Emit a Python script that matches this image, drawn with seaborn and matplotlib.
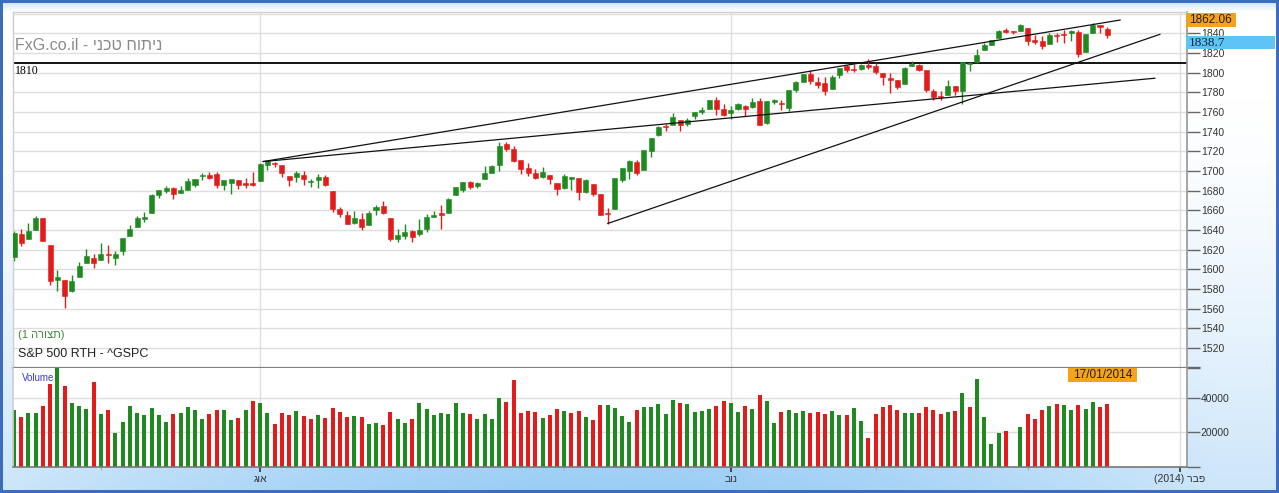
import numpy as np
import pandas as pd
import matplotlib
matplotlib.use("Agg")
import matplotlib.pyplot as plt
from matplotlib.patches import Rectangle
import seaborn as sns

# S&P 500 daily candles, 13/06/2013 - 17/01/2014
dates = [
    "2013-06-13", "2013-06-14", "2013-06-17", "2013-06-18", "2013-06-19", "2013-06-20", "2013-06-21",
    "2013-06-24", "2013-06-25", "2013-06-26", "2013-06-27", "2013-06-28",
    "2013-07-01", "2013-07-02", "2013-07-03", "2013-07-05", "2013-07-08", "2013-07-09", "2013-07-10",
    "2013-07-11", "2013-07-12", "2013-07-15", "2013-07-16", "2013-07-17", "2013-07-18", "2013-07-19",
    "2013-07-22", "2013-07-23", "2013-07-24", "2013-07-25", "2013-07-26", "2013-07-29", "2013-07-30",
    "2013-07-31",
    "2013-08-01", "2013-08-02", "2013-08-05", "2013-08-06", "2013-08-07", "2013-08-08", "2013-08-09",
    "2013-08-12", "2013-08-13", "2013-08-14", "2013-08-15", "2013-08-16", "2013-08-19", "2013-08-20",
    "2013-08-21", "2013-08-22", "2013-08-23", "2013-08-26", "2013-08-27", "2013-08-28", "2013-08-29",
    "2013-08-30",
    "2013-09-03", "2013-09-04", "2013-09-05", "2013-09-06", "2013-09-09", "2013-09-10", "2013-09-11",
    "2013-09-12", "2013-09-13", "2013-09-16", "2013-09-17", "2013-09-18", "2013-09-19", "2013-09-20",
    "2013-09-23", "2013-09-24", "2013-09-25", "2013-09-26", "2013-09-27", "2013-09-30",
    "2013-10-01", "2013-10-02", "2013-10-03", "2013-10-04", "2013-10-07", "2013-10-08", "2013-10-09",
    "2013-10-10", "2013-10-11", "2013-10-14", "2013-10-15", "2013-10-16", "2013-10-17", "2013-10-18",
    "2013-10-21", "2013-10-22", "2013-10-23", "2013-10-24", "2013-10-25", "2013-10-28", "2013-10-29",
    "2013-10-30", "2013-10-31",
    "2013-11-01", "2013-11-04", "2013-11-05", "2013-11-06", "2013-11-07", "2013-11-08", "2013-11-11",
    "2013-11-12", "2013-11-13", "2013-11-14", "2013-11-15", "2013-11-18", "2013-11-19", "2013-11-20",
    "2013-11-21", "2013-11-22", "2013-11-25", "2013-11-26", "2013-11-27", "2013-11-29",
    "2013-12-02", "2013-12-03", "2013-12-04", "2013-12-05", "2013-12-06", "2013-12-09", "2013-12-10",
    "2013-12-11", "2013-12-12", "2013-12-13", "2013-12-16", "2013-12-17", "2013-12-18", "2013-12-19",
    "2013-12-20", "2013-12-23", "2013-12-24", "2013-12-26", "2013-12-27", "2013-12-30", "2013-12-31",
    "2014-01-02", "2014-01-03", "2014-01-06", "2014-01-07", "2014-01-08", "2014-01-09", "2014-01-10",
    "2014-01-13", "2014-01-14", "2014-01-15", "2014-01-16", "2014-01-17",
]
# empty sessions to the right of the last candle (axis only)
future_dates = [
    "2014-01-21", "2014-01-22", "2014-01-23", "2014-01-24", "2014-01-27", "2014-01-28",
    "2014-01-29", "2014-01-30", "2014-01-31", "2014-02-03",
]

opens = [
    1612.15, 1635.52, 1630.64, 1639.77, 1651.83, 1624.62, 1588.62, 1588.77, 1577.52, 1592.27, 1606.44, 1611.12,
    1609.78, 1614.29, 1611.48, 1618.65, 1634.20, 1642.89, 1651.56, 1657.41, 1675.26, 1679.59, 1682.70,
    1677.91, 1681.05, 1686.15, 1694.41, 1696.06, 1696.63, 1685.21, 1687.31, 1690.32, 1687.92, 1687.76,
    1689.42, 1706.10, 1708.01, 1705.79, 1695.30, 1693.35, 1696.10, 1688.37, 1690.65, 1693.88, 1679.61,
    1661.22, 1655.25, 1646.81, 1650.66, 1645.03, 1659.92, 1664.29, 1652.54, 1630.25, 1633.50, 1638.89,
    1635.95, 1640.72, 1653.28, 1657.44, 1656.85, 1675.11, 1681.04, 1689.21, 1685.04, 1691.70, 1697.73,
    1705.74, 1727.34, 1722.44, 1711.44, 1702.60, 1698.02, 1694.05, 1695.52, 1687.26,
    1682.41, 1691.90, 1692.35, 1678.79, 1687.15, 1676.22, 1656.99, 1660.88, 1691.09, 1699.86, 1709.17,
    1700.49, 1720.17, 1736.72, 1745.20, 1746.48, 1752.27, 1747.48, 1756.01, 1759.42, 1762.93, 1772.27,
    1763.24,
    1758.70, 1763.40, 1765.67, 1765.00, 1770.74, 1748.37, 1769.96, 1769.51, 1764.37, 1782.75, 1790.66,
    1798.82, 1790.79, 1789.59, 1783.52, 1797.21, 1806.33, 1802.87, 1803.48, 1808.01,
    1806.55, 1800.10, 1794.15, 1792.82, 1788.36, 1806.21, 1807.60, 1802.76, 1781.71, 1776.01, 1777.48,
    1786.47, 1781.46, 1809.00, 1810.39, 1822.92, 1828.02, 1834.96, 1842.97, 1841.47, 1842.61,
    1845.86, 1833.21, 1832.31, 1828.71, 1837.90, 1839.00, 1840.06, 1841.26, 1821.36, 1840.52, 1847.99,
    1844.23,
]
highs = [
    1639.25, 1640.80, 1646.50, 1654.19, 1652.45, 1624.62, 1599.19, 1588.77, 1593.79, 1606.83, 1620.07, 1615.94,
    1626.61, 1624.26, 1618.97, 1632.07, 1644.68, 1654.18, 1657.92, 1676.63, 1680.19, 1684.51, 1683.73,
    1684.75, 1693.12, 1692.09, 1697.61, 1698.38, 1698.78, 1690.94, 1691.85, 1690.92, 1693.19, 1698.43,
    1707.85, 1709.67, 1709.24, 1705.79, 1695.30, 1700.18, 1699.42, 1691.49, 1696.81, 1695.52, 1679.61,
    1663.60, 1659.18, 1658.92, 1656.99, 1659.55, 1664.85, 1669.51, 1652.54, 1641.18, 1646.41, 1640.08,
    1651.35, 1655.72, 1659.17, 1664.83, 1672.40, 1684.09, 1689.13, 1689.97, 1688.73, 1704.95, 1705.52,
    1729.44, 1729.86, 1725.23, 1711.44, 1707.63, 1701.71, 1703.85, 1695.52, 1687.26,
    1696.55, 1693.87, 1692.35, 1691.94, 1687.15, 1676.79, 1662.47, 1692.56, 1703.44, 1711.03, 1711.57,
    1721.76, 1733.45, 1745.31, 1747.79, 1759.33, 1752.27, 1753.94, 1759.82, 1764.99, 1772.09, 1775.22,
    1768.53,
    1765.67, 1768.78, 1767.03, 1773.74, 1774.54, 1770.78, 1773.44, 1771.78, 1782.00, 1791.53, 1798.22,
    1802.33, 1795.51, 1795.73, 1797.16, 1804.84, 1808.10, 1808.42, 1808.27, 1813.55,
    1810.02, 1800.10, 1799.80, 1792.82, 1806.04, 1811.52, 1808.52, 1802.97, 1782.99, 1780.92, 1792.22,
    1786.77, 1811.08, 1810.88, 1823.75, 1829.75, 1833.32, 1842.84, 1844.89, 1842.47, 1849.44,
    1845.86, 1838.24, 1837.16, 1840.10, 1840.02, 1843.23, 1843.15, 1843.45, 1839.26, 1850.84, 1847.99,
    1846.04,
]
lows = [
    1608.07, 1623.96, 1630.34, 1639.77, 1628.91, 1584.32, 1577.70, 1560.33, 1577.09, 1592.27, 1606.44, 1601.06,
    1609.78, 1606.77, 1604.57, 1614.71, 1634.20, 1642.89, 1647.66, 1657.41, 1672.33, 1677.89, 1671.84,
    1677.91, 1681.05, 1684.08, 1690.67, 1692.13, 1682.57, 1680.07, 1676.03, 1681.86, 1682.42, 1684.94,
    1689.42, 1700.68, 1703.55, 1693.29, 1684.91, 1688.38, 1686.02, 1683.35, 1682.62, 1684.83, 1658.59,
    1652.61, 1646.08, 1646.08, 1639.43, 1645.03, 1654.81, 1656.02, 1629.05, 1627.47, 1630.88, 1628.05,
    1633.41, 1637.41, 1653.07, 1640.62, 1656.85, 1675.11, 1678.70, 1681.96, 1682.22, 1691.70, 1697.73,
    1700.35, 1720.20, 1708.89, 1697.10, 1694.90, 1691.88, 1693.11, 1687.11, 1674.99,
    1682.07, 1680.34, 1670.36, 1677.33, 1674.70, 1655.03, 1646.47, 1660.88, 1688.52, 1692.13, 1695.93,
    1700.49, 1714.12, 1735.74, 1740.67, 1746.48, 1740.50, 1745.50, 1752.45, 1757.67, 1762.93, 1757.24,
    1755.72,
    1752.70, 1761.56, 1755.76, 1764.40, 1746.20, 1747.63, 1767.85, 1762.29, 1760.64, 1780.22, 1790.66,
    1788.00, 1784.72, 1777.23, 1783.52, 1794.70, 1800.58, 1800.77, 1802.77, 1803.98,
    1798.60, 1787.85, 1779.09, 1783.38, 1788.36, 1806.21, 1801.75, 1780.09, 1772.28, 1772.45, 1777.48,
    1777.05, 1767.99, 1801.35, 1810.25, 1822.92, 1828.02, 1834.96, 1839.81, 1838.77, 1842.41,
    1827.74, 1829.13, 1823.73, 1828.71, 1831.40, 1830.38, 1832.43, 1815.52, 1821.36, 1840.52, 1840.30,
    1835.23,
]
closes = [
    1636.36, 1626.73, 1639.04, 1651.81, 1628.93, 1588.19, 1592.43, 1573.09, 1588.03, 1603.26, 1613.20, 1606.28,
    1614.96, 1614.08, 1615.41, 1631.89, 1640.46, 1652.32, 1652.62, 1675.02, 1680.19, 1682.50, 1676.26,
    1680.91, 1689.37, 1692.09, 1695.53, 1692.39, 1685.94, 1690.25, 1691.65, 1685.33, 1685.96, 1685.73,
    1706.87, 1709.67, 1707.14, 1697.37, 1690.91, 1697.48, 1691.42, 1689.47, 1694.16, 1685.39, 1661.32,
    1655.83, 1646.06, 1652.35, 1642.80, 1656.96, 1663.50, 1656.78, 1630.48, 1634.96, 1638.17, 1632.97,
    1639.77, 1653.08, 1655.08, 1655.17, 1671.71, 1683.99, 1689.13, 1683.42, 1687.99, 1697.60, 1704.76,
    1725.52, 1722.34, 1709.91, 1701.84, 1697.42, 1692.77, 1698.67, 1691.75, 1681.55,
    1695.00, 1693.87, 1678.66, 1690.50, 1676.12, 1655.45, 1656.40, 1692.56, 1703.20, 1710.14, 1698.06,
    1721.54, 1733.15, 1744.50, 1744.66, 1754.67, 1746.38, 1752.07, 1759.77, 1762.11, 1771.95, 1763.31,
    1756.54,
    1761.64, 1767.93, 1762.97, 1770.49, 1747.15, 1770.61, 1771.89, 1767.69, 1782.00, 1790.62, 1798.18,
    1791.53, 1787.87, 1781.37, 1795.85, 1804.76, 1802.48, 1802.75, 1807.23, 1805.81,
    1800.90, 1795.15, 1792.81, 1785.03, 1805.09, 1808.37, 1802.62, 1782.22, 1775.50, 1775.32, 1786.54,
    1781.00, 1810.65, 1809.60, 1818.32, 1827.99, 1833.32, 1842.02, 1841.40, 1841.07, 1848.36,
    1831.98, 1831.37, 1826.77, 1837.88, 1837.49, 1838.13, 1842.37, 1819.20, 1838.88, 1848.38, 1845.89,
    1838.70,
]
volumes = [
    33400, 29100, 31400, 31400, 35300, 48500, 60000, 47000, 37400, 35300, 33600, 49700,
    30700, 33000, 19800, 26400, 35300, 31400, 30300, 34100, 30300, 26400, 30800,
    31400, 34700, 33000, 28100, 30800, 33000, 33000, 27500, 28700, 33000, 38600,
    37400, 31400, 25200, 31400, 30300, 32400, 29700, 28100, 30300, 28700, 34100,
    32000, 29100, 29700, 29100, 25200, 25800, 24300, 32000, 28100, 25500, 27800,
    37200, 33500, 30000, 31600, 31000, 37200, 31600, 31000, 27800, 31000, 27600,
    40000, 37800, 50800, 31600, 32700, 31800, 28400, 30000, 33500,
    32700, 31600, 32700, 29000, 27200, 36300, 36300, 34100, 29400, 26100, 33300,
    35100, 35100, 36700, 30600, 39000, 37200, 36700, 32100, 32700, 33900, 35700,
    38400,
    37200, 32100, 35700, 33500, 41700, 38400, 25500, 32100, 33300, 31600, 32700,
    31600, 32100, 31000, 32700, 30400, 30000, 34500, 26700, 16700,
    31000, 35100, 36100, 33300, 31600, 31600, 31600, 35100, 33300, 31000, 32100,
    32700, 43300, 35100, 51200, 29000, 13100, 19800, 21000, 0, 23300,
    31000, 27800, 33300, 35700, 36700, 36100, 33300, 36100, 33900, 37800, 35100,
    36700,
]

# drawn lines: (bar index, price) pairs
level_1810 = 1810
trend_lines = [
    [(34.4, 1709.5), (152.8, 1853.5)],
    [(34.4, 1709.5), (157.6, 1794.3)],
    [(82.0, 1646.5), (158.3, 1839.0)],
]
price_top = 1862.06
last_price = 1838.7
last_date = "17/01/2014"
# month names written in visual (left-to-right) order
month_labels = {8: "גוא", 11: "בונ", 2: "(2014) רבפ"}

GREEN = "#1f8a1f"
RED = "#e31b1b"
W, H = 1279, 493

sns.set_theme(style="white")
plt.rcParams["font.family"] = ["Liberation Sans", "DejaVu Sans"]

df = pd.DataFrame({"date": pd.to_datetime(dates), "open": opens, "high": highs,
                   "low": lows, "close": closes, "volume": volumes})
df["i"] = np.arange(len(df))
df["body_lo"] = df[["open", "close"]].min(axis=1)
df["body_h"] = (df["close"] - df["open"]).abs().clip(lower=0.9)
df["candle"] = np.where(df["close"] >= df["open"], GREEN, RED)
prev = df["close"].shift(1).fillna(df["open"])
df["dir"] = np.where(df["close"] >= prev, "up", "down")

axis_dates = pd.to_datetime(dates + future_dates)
first_of_month = pd.Series(np.arange(len(axis_dates)), index=axis_dates)
first_of_month = first_of_month.groupby([axis_dates.year, axis_dates.month]).first()
major_pos, major_lab, minor_pos = [], [], []
for (yr, mo), pos in first_of_month.items():
    if pos == 0:
        continue
    if mo in month_labels:
        major_pos.append(pos)
        major_lab.append(month_labels[mo])
    else:
        minor_pos.append(pos)

fig = plt.figure(figsize=(W / 100, H / 100), dpi=100)


def fx(x):
    return x / W


def fy(y):
    return 1 - y / H


# window background gradient
bg = fig.add_axes([0, 0, 1, 1], zorder=-10)
yy, xx = np.mgrid[0:H, 0:W]
xn, yn = xx / W, yy / H
b = np.clip((yn - 0.2) / 0.8, 0, 1) ** 1.4 * (0.5 + 0.5 * np.sin(np.pi * np.clip(xn * 1.05, 0, 1)))
tb = np.clip(1 - (yy - 3) / 8.0, 0, 1) * 0.45
b = np.maximum(b, tb)
blue = np.array([0.60, 0.80, 0.96])
img = 1 - b[..., None] * (1 - blue)
bg.imshow(img, extent=(0, 1, 0, 1), aspect="auto", origin="upper")
bg.axis("off")

left, right = 12.7, 1187
ax = fig.add_axes([fx(left), fy(367.5), (right - left) / W, (367.5 - 11.6) / H])
axv = fig.add_axes([fx(left), fy(466.7), (right - left) / W, (466.7 - 367.5) / H], sharex=ax)

# price panel
for lvl in range(1520, 1861, 20):
    ax.axhline(lvl, color="#dedede", lw=1, zorder=0)
for pos in major_pos:
    ax.axvline(pos, color="#dedede", lw=1, zorder=0)
ax.axhline(level_1810, color="black", lw=1.3, zorder=1)
for (x0, y0), (x1, y1) in trend_lines:
    ax.plot([x0, x1], [y0, y1], color="#111111", lw=0.9, zorder=4)

ax.vlines(df["i"], df["low"], df["high"], colors=df["candle"], lw=1, zorder=2)
ax.bar(df["i"], df["body_h"], bottom=df["body_lo"], width=0.7, color=df["candle"],
       edgecolor=df["candle"], lw=0.4, zorder=3)

ax.set_ylim(1500, price_top)
ax.yaxis.tick_right()
ax.set_yticks(list(range(1520, 1841, 20)) + [1500])
ax.set_yticklabels([str(v) for v in range(1520, 1841, 20)] + [""])
ax.tick_params(axis="y", right=True, length=9.5, width=1, color="#666666", pad=0.5,
               labelsize=7.5, labelcolor="#333333")
ax.tick_params(axis="x", bottom=False, labelbottom=False)
ax.set_facecolor("white")
for s in ["left", "top"]:
    ax.spines[s].set_color("#cfcfcf")
    ax.spines[s].set_linewidth(1)
ax.spines["right"].set_color("#999999")
ax.spines["bottom"].set_color("#808080")
ax.spines["bottom"].set_linewidth(1.6)

# volume panel
vol_max = 58000
for lvl in [20000, 40000]:
    axv.axhline(lvl, color="#dedede", lw=1, zorder=0)
for pos in major_pos:
    axv.axvline(pos, color="#dedede", lw=1, zorder=0)
sns.barplot(data=df, x="i", y="volume", hue="dir", palette={"up": GREEN, "down": RED},
            native_scale=True, dodge=False, width=0.55, errorbar=None, saturation=1,
            linewidth=0, legend=False, ax=axv, zorder=2)
axv.set_xlabel("")
axv.set_ylabel("")
axv.set_ylim(0, vol_max)
axv.yaxis.tick_right()
axv.set_yticks([0, 20000, 40000, vol_max])
axv.set_yticklabels(["", "20000", "40000", ""])
axv.tick_params(axis="y", right=True, length=9.5, width=1, color="#666666", pad=0.5,
                labelsize=7.5, labelcolor="#333333")
axv.set_xticks(major_pos)
axv.set_xticklabels(major_lab)
axv.set_xticks(minor_pos, minor=True)
axv.tick_params(axis="x", which="major", bottom=True, length=3.5, width=1.2, color="#333333",
                pad=2, labelsize=7.5, labelcolor="#333333")
axv.tick_params(axis="x", which="minor", bottom=True, length=2.5, width=0.8, color="#aaaaaa")
axv.set_facecolor("white")
axv.spines["top"].set_visible(False)
axv.spines["left"].set_color("#cfcfcf")
axv.spines["right"].set_color("#999999")
axv.spines["bottom"].set_color("#777777")
axv.spines["bottom"].set_linewidth(1.2)
ax.set_xlim((left - 14) / 7.24, (right - 14) / 7.24)

# texts
fig.text(fx(15), fy(45), "FxG.co.il - ינכט חותינ", fontsize=11.5, color="#8a8a8a", va="center")
fig.text(fx(15), fy(71), str(level_1810), fontsize=8.5, family=["Liberation Serif", "DejaVu Serif"],
         color="black", va="center")
fig.text(fx(18), fy(335), "(1 הרוצת)", fontsize=8, color="#3a8a3a", va="center")
fig.text(fx(18), fy(354), "S&P 500 RTH - ^GSPC", fontsize=9, color="#222222", va="center")
axv.text(fx(22), fy(378), "Volume", transform=fig.transFigure, fontsize=7, color="#3c3cc8",
         va="center", zorder=1)


def label_box(x0, y0, x1, y1, color, text, tx, size, family=None, tcolor="#222222"):
    fig.add_artist(Rectangle((fx(x0), fy(y1)), (x1 - x0) / W, (y1 - y0) / H,
                             transform=fig.transFigure, facecolor=color, edgecolor="none", zorder=5))
    kw = {"family": family} if family else {}
    fig.text(fx(tx), fy((y0 + y1) / 2), text, fontsize=size, color=tcolor, va="center",
             zorder=6, **kw)


label_box(1185.7, 12.7, 1236, 26.7, "#f5a21c", f"{price_top:.2f}", 1189, 8.5)
label_box(1185.7, 36, 1275, 49.3, "#5ec4f6", f"{last_price}", 1189, 9.5,
          family=["Liberation Serif", "DejaVu Serif"], tcolor="#10263f")
label_box(1068, 368.2, 1137, 382.3, "#f5a21c", last_date, 1073, 8.5)

# window frame
fig.add_artist(Rectangle((0, 0), 1, 1, transform=fig.transFigure, fill=False,
                         edgecolor="#3b6cc0", lw=4.3, zorder=10))

fig.savefig("out.png", dpi=100)
